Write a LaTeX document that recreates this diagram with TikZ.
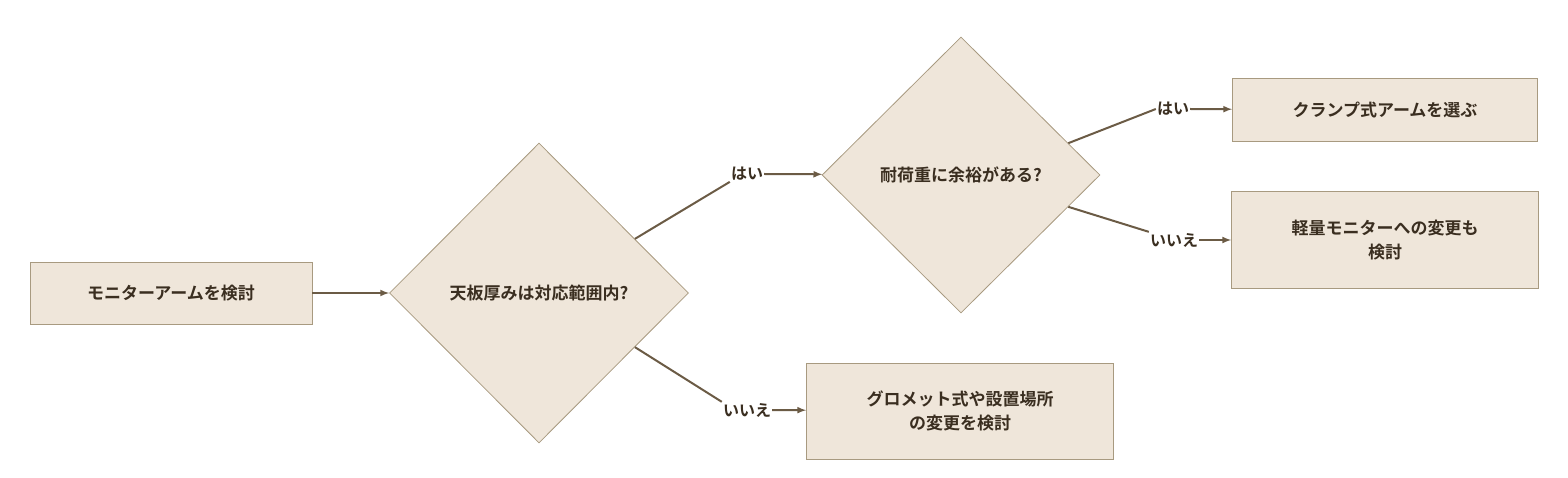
\documentclass[tikz,border=0pt]{standalone}
\usepackage{fontspec}
\setmainfont{Noto Sans CJK JP}[BoldFont={* Bold}]
\usetikzlibrary{shapes.geometric,calc}
\definecolor{boxfill}{HTML}{EFE6DA}
\definecolor{boxline}{HTML}{A89A80}
\definecolor{arrowcol}{HTML}{6B5B45}
\definecolor{textcol}{HTML}{3A2E20}
\tikzset{
  flowbox/.style={draw=boxline,fill=boxfill,line width=0.8pt,inner sep=0pt,
    align=center,text=textcol,font=\fontsize{17}{24}\selectfont\bfseries},
  ask/.style={flowbox,shape=diamond,aspect=1},
  lbl/.style={inner sep=1pt,text=textcol,font=\fontsize{16}{18}\selectfont\bfseries},
  link/.style={draw=arrowcol,line width=2pt},
  arr/.style={link,-latex},
}
\begin{document}
\begin{tikzpicture}[x=1pt,y=-1pt]
      \useasboundingbox (0,0) rectangle (1568,478);

      \node[flowbox,minimum width=282,minimum height=62] (start) at (171,293) {モニターアームを検討};
      \node[ask,minimum width=299,minimum height=300] (thick) at (539,293) {天板厚みは対応範囲内?};
      \node[ask,minimum width=278,minimum height=276] (load) at (961,175) {耐荷重に余裕がある?};
      \node[flowbox,minimum width=305,minimum height=63] (clamp) at (1385,110) {クランプ式アームを選ぶ};
      \node[flowbox,minimum width=307,minimum height=97] (light) at (1385,240) {軽量モニターへの変更も\\検討};
      \node[flowbox,minimum width=307,minimum height=96] (grom) at (960,411) {グロメット式や設置場所\\の変更を検討};

      \node[lbl] (yes1) at (747,174) {はい};
      \node[lbl] (no1) at (747,410) {いいえ};
      \node[lbl] (yes2) at (1173,109) {はい};
      \node[lbl] (no2) at (1174,240) {いいえ};

      \draw[arr] (start) -- (thick);
      \draw[link] ($(thick.north)!0.64!(thick.east)$) -- (yes1.south west);
      \draw[arr] (yes1.east) -- (load);
      \draw[link] ($(thick.south)!0.64!(thick.east)$) -- (no1.north west);
      \draw[arr] (no1.east) -- (grom);
      \draw[link] ($(load.north)!0.77!(load.east)$) -- (yes2.west);
      \draw[arr] (yes2.east) -- (clamp);
      \draw[link] ($(load.south)!0.77!(load.east)$) -- (no2.north west);
      \draw[arr] (no2.east) -- (light);
\end{tikzpicture}
\end{document}
